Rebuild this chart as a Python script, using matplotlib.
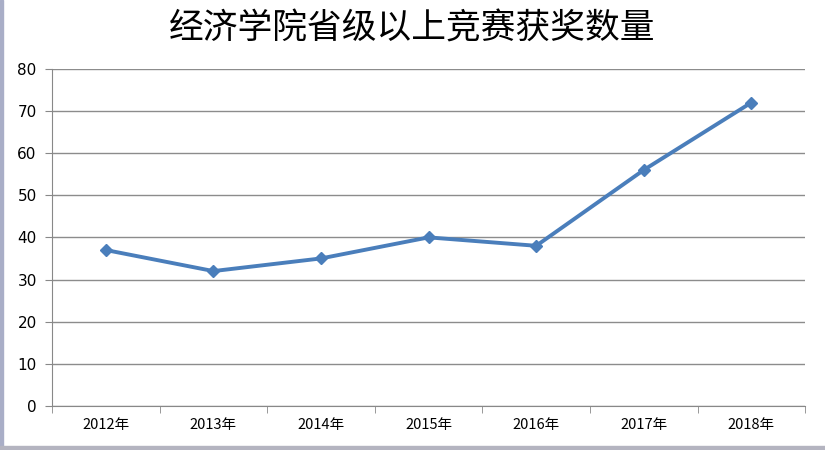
import numpy as np
import matplotlib
matplotlib.use("Agg")
from matplotlib import pyplot as plt
from matplotlib.patches import Rectangle

plt.rcParams['font.family'] = ['Noto Sans CJK SC', 'DejaVu Sans']

years = ["2012年", "2013年", "2014年", "2015年", "2016年", "2017年", "2018年"]
counts = [37, 32, 35, 40, 38, 56, 72]
yticks = [0, 10, 20, 30, 40, 50, 60, 70, 80]

fig = plt.figure(figsize=(8.25, 4.5), dpi=100)
ax = fig.add_axes([0.063, 0.098, 0.913, 0.749])

x = np.arange(len(years))
ax.plot(x, counts, color="#4A7EBB", lw=2.8, marker="D", ms=6, zorder=3)

ax.set_xlim(-0.5, len(years) - 0.5)
ax.set_ylim(0, 80)
ax.set_yticks(yticks)
ax.set_yticklabels([str(v) for v in yticks], fontsize=11, family="DejaVu Sans")
ax.set_xticks(x)
ax.set_xticklabels(years, fontsize=10.5)
ax.set_xticks(np.arange(len(years) + 1) - 0.5, minor=True)
ax.tick_params(axis="x", which="major", length=0, pad=9)
ax.tick_params(axis="x", which="minor", length=5, color="#888888")
ax.tick_params(axis="y", length=5, color="#888888", pad=6)

ax.grid(axis="y", color="#8c8c8c", lw=1)
ax.set_axisbelow(True)
for s in ["top", "right"]:
    ax.spines[s].set_visible(False)
ax.spines["left"].set_color("#888888")
ax.spines["bottom"].set_color("#888888")

fig.text(0.5, 0.935, "经济学院省级以上竞赛获奖数量", ha="center", va="center",
         fontsize=25, family=["Noto Sans CJK SC"])

# window frame edges
fig.add_artist(Rectangle((0, 0), 0.004, 1, transform=fig.transFigure, color="#a9aec7"))
fig.add_artist(Rectangle((0, 0), 1, 0.008, transform=fig.transFigure, color="#b4b4c0"))

fig.savefig("out.png", dpi=100)
